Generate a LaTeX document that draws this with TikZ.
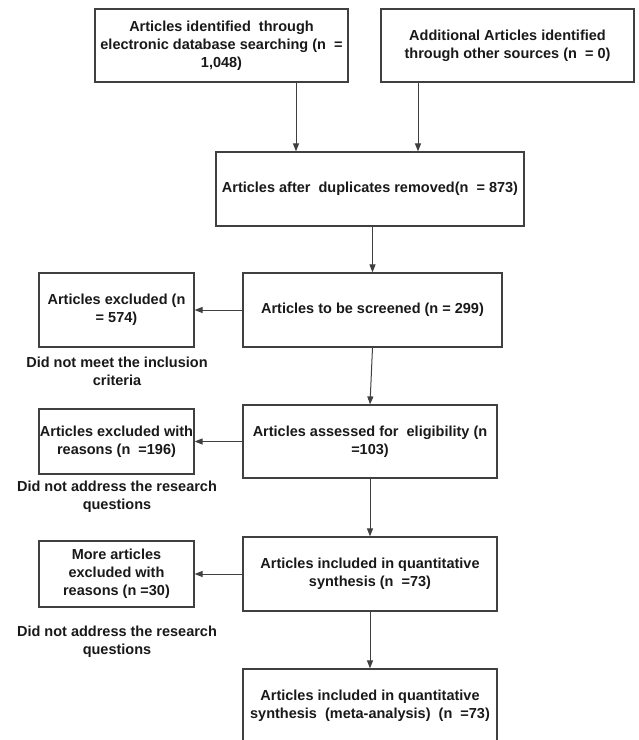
\documentclass[tikz,border=0pt]{standalone}
\usepackage{fontspec}
\setmainfont{Liberation Sans}
\usetikzlibrary{arrows.meta}

\begin{document}
\begin{tikzpicture}[x=1pt, y=-1pt]
    \tikzset{box/.style={
      rectangle,
      draw=black!75,
      line width=1.2pt,
      inner sep=0pt,
      text=black!90,
      align=center,
      font=\fontsize{14.5}{18}\selectfont\bfseries},
      why/.style={
      text=black!90,
      align=center,
      font=\fontsize{14.5}{18}\selectfont\bfseries},
      arr/.style={
      -{Triangle[length=8pt, width=6pt]},
      line width=1pt,
      draw=black!75}}
    \clip (0, 0) rectangle (639, 740);
    \node[box, minimum width=253pt, minimum height=73pt] at (221.5, 45.5) (ident) {Articles identified\ \ through\\electronic database searching (n\ \ =\\1,048)};
    \node[box, minimum width=253pt, minimum height=73pt] at (507.5, 45.5) (other) {Additional Articles identified\\through other sources (n\ \ = 0)};
    \node[box, minimum width=308pt, minimum height=74pt] at (370, 189) (dedup) {Articles after\ \ duplicates removed(n\ \ = 873)};
    \node[box, minimum width=155pt, minimum height=74pt] at (116.5, 310) (excl) {Articles excluded (n\\= 574)};
    \node[box, minimum width=259pt, minimum height=74pt] at (372.5, 310) (screen) {Articles to be screened (n = 299)};
    \node[why] at (117, 371) (why1) {Did not meet the inclusion\\criteria};
    \node[box, minimum width=155pt, minimum height=65pt] at (116.5, 441.5) (exclr) {Articles excluded with\\reasons (n\ \ =196)};
    \node[box, minimum width=254pt, minimum height=73pt] at (370, 441.5) (elig) {Articles assessed for\ \ eligibility (n\\=103)};
    \node[why] at (117, 497) (why2) {Did not address the research\\questions};
    \node[box, minimum width=155pt, minimum height=66pt] at (116.5, 574) (exclm) {More articles\\excluded with\\reasons (n =30)};
    \node[box, minimum width=254pt, minimum height=74pt] at (370, 574) (quant) {Articles included in quantitative\\synthesis (n\ \ =73)};
    \node[why] at (117, 642) (why3) {Did not address the research\\questions};
    \node[box, minimum width=254pt, minimum height=74pt] at (370, 706) (meta) {Articles included in quantitative\\synthesis\ \ (meta-analysis)\ \ (n\ \ =73)};
    \draw[arr] ([xshift=74.5pt]ident.south) -- ([xshift=74.5pt]ident.south |- dedup.north);
    \draw[arr] ([xshift=-89.5pt]other.south) -- ([xshift=-89.5pt]other.south |- dedup.north);
    \draw[arr] (dedup.south -| screen.north) -- (screen.north);
    \draw[arr] (screen.west) -- (excl.east);
    \draw[arr] (screen.south) -- (elig.north);
    \draw[arr] (elig.west) -- (exclr.east);
    \draw[arr] (elig.south) -- (quant.north);
    \draw[arr] (quant.west) -- (exclm.east);
    \draw[arr] (quant.south) -- (meta.north);
\end{tikzpicture}
\end{document}
